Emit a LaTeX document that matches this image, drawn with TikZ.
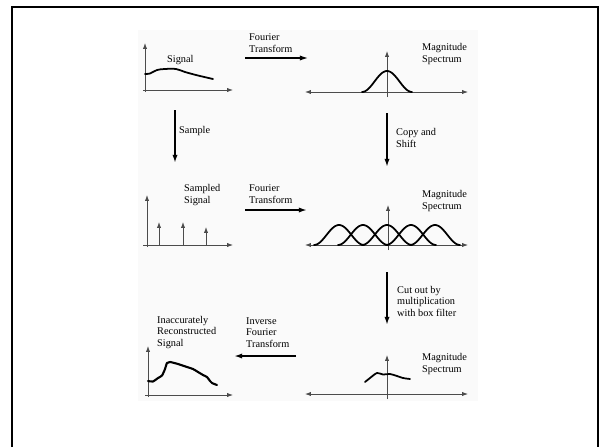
\documentclass[tikz,border=0pt]{standalone}
\usepackage{fontspec}
\setmainfont{Liberation Serif}
\usetikzlibrary{arrows.meta}

\begin{document}
\begin{tikzpicture}[x=0.03cm,y=-0.03cm,
  lbl/.style={font=\fontsize{8.8}{9.8}\selectfont, inner sep=0pt, anchor=base west, align=left},
  axis/.style={line width=0.7pt, draw=black!70, -{Latex[length=5pt,width=3.6pt]}},
  axistwo/.style={line width=0.7pt, draw=black!70, {Latex[length=5pt,width=3.6pt]}-{Latex[length=5pt,width=3.6pt]}},
  curve/.style={line width=1.5pt, line join=round, line cap=round},
  flow/.style={line width=1.1pt, -{Latex[length=7pt,width=4.5pt]}},
  flowthick/.style={line width=1.8pt, -{Latex[length=7pt,width=4.5pt]}},
]
\path[use as bounding box] (0,0) rectangle (600,447);

% paper and frame
\fill[black!2] (138,30) rectangle (478,401);
\draw[line width=1.7pt] (12,447) -- (12,7) -- (598,7) -- (598,447);

% multi-line labels are anchored at the baseline of their last line

% ---------- original signal ----------
\draw[axis] (145,92) -- (145,43);
\draw[axis] (143,90) -- (233,90);
\draw[curve] plot[smooth, tension=0.6] coordinates
  {(145,74) (150,73.5) (157,70) (165,69) (176,69) (185,72) (198,75.5) (213,79)};
\node[lbl] (sig) at (167,62) {Signal};

% Fourier transform (top)
\node[lbl] (ft1) at (249,52) {Fourier\\Transform};
\coordinate (ft1a) at (245,58);
\coordinate (ft1b) at (308,58);
\draw[flow] (ft1a) -- (ft1b);

% ---------- magnitude spectrum ----------
\draw[axistwo] (305,92) -- (468,92);
\draw[axis] (387,97) -- (387,51);
\draw[curve] plot[domain=-25:25, samples=41, smooth] ({387+\x},{92-21*(1+cos(180*\x/25))/2});
\node[lbl] (ms1) at (422,62) {Magnitude\\Spectrum};

% Sample
\coordinate (sa) at (175,110);
\coordinate (sb) at (175,163);
\draw[flowthick] (sa) -- (sb);
\node[lbl] (samp) at (179,133) {Sample};

% Copy and shift
\coordinate (ca) at (387,113);
\coordinate (cb) at (387,167);
\draw[flowthick] (ca) -- (cb);
\node[lbl] (cps) at (396,147) {Copy and\\Shift};

% ---------- sampled signal ----------
\draw[axis] (147,247) -- (147,195);
\draw[axis] (143,245) -- (233,245);
\draw[axis] (159,245) -- (159,222);
\draw[axis] (183,245) -- (183,222);
\draw[axis] (206,245) -- (206,227);
\node[lbl] (ssig) at (184,203) {Sampled\\Signal};

% Fourier transform (middle)
\node[lbl] (ft2) at (249,203) {Fourier\\Transform};
\coordinate (ft2a) at (245,210);
\coordinate (ft2b) at (307,210);
\draw[flowthick] (ft2a) -- (ft2b);

% ---------- replicated spectra ----------
\draw[axistwo] (305,245) -- (468,245);
\draw[axis] (388,250) -- (388,205);
\foreach \c in {339,363,387,411,435}{
  \draw[curve] plot[domain=-25:25, samples=41, smooth] ({\c+\x},{245-20*(1+cos(180*\x/25))/2});
}
\node[lbl] (ms2) at (422,209) {Magnitude\\Spectrum};

% Cut out by box filter
\coordinate (cua) at (387,272);
\coordinate (cub) at (387,325);
\draw[flowthick] (cua) -- (cub);
\node[lbl] (cut) at (397,316) {Cut out by\\multiplication\\with box filter};

% ---------- filtered spectrum ----------
\draw[axistwo] (305,394) -- (468,394);
\draw[axis] (387,399) -- (387,355);
\draw[curve] plot[smooth, tension=0.5] coordinates
  {(365,382) (370,378) (377,373) (383,374.5) (390,374) (397,376) (403,378) (410,379)};
\node[lbl] (ms3) at (422,372) {Magnitude\\Spectrum};

% Inverse Fourier transform
\node[lbl] (ift) at (246,347) {Inverse\\Fourier\\Transform};
\coordinate (ifa) at (296,356);
\coordinate (ifb) at (234,356);
\draw[flowthick] (ifa) -- (ifb);

% ---------- reconstructed signal ----------
\draw[axis] (148,397) -- (148,346);
\draw[axis] (145,395) -- (233,395);
\draw[curve, line width=1.8pt] plot[smooth, tension=0.4] coordinates
  {(148,381) (153,381.5) (158,378) (162,375.5) (165,369) (167,363) (170,362)
   (178,364) (187,367) (193,369) (198,372) (203,375) (207,377) (210,381)
   (212,383) (217,385)};
\node[lbl] (rsig) at (157,346) {Inaccurately\\Reconstructed\\Signal};
\end{tikzpicture}
\end{document}
